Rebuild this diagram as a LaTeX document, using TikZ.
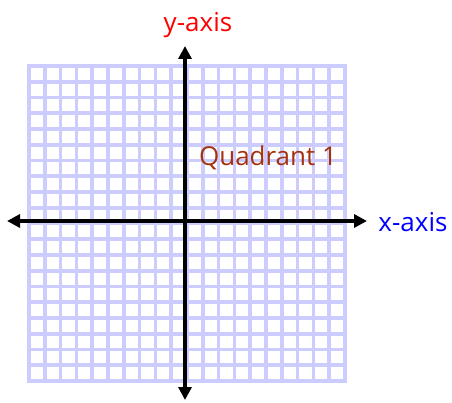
\documentclass[tikz,border=0pt]{standalone}
\usepackage{fontspec}
\setmainfont{Open Sans}
\usepackage{tikz}
\usetikzlibrary{arrows.meta, positioning}
\definecolor{gridblue}{RGB}{204,204,255}
\definecolor{quadbrown}{RGB}{165,50,15}
\tikzset{
  gridline/.style={gridblue, line width=3.6pt},
  axis/.style={black, line width=3.6pt, -{Triangle[length=13pt,width=13pt]}},
  label/.style={font=\fontsize{26}{30}\selectfont, inner sep=0pt}
}
\begin{document}
\begin{tikzpicture}[x=1pt, y=1pt]
  \useasboundingbox (0,0) rectangle (452,402);
  % Grid
  \foreach \i in {0,...,20} {
    \draw[gridline] ({29+15.8*\i},21) -- ({29+15.8*\i},336);
    \draw[gridline] (27,{21+15.75*\i}) -- (347,{21+15.75*\i});
  }
  % Axes
  \coordinate (origin) at (185,181);
  \coordinate (xleft) at (7,181);
  \coordinate (xright) at (367,181);
  \coordinate (ytop) at (185,356);
  \coordinate (ybottom) at (185,2);
  \draw[axis] (origin) -- (xright);
  \draw[axis] (origin) -- (xleft);
  \draw[axis] (origin) -- (ytop);
  \draw[axis] (origin) -- (ybottom);
  % Labels
  \node[label, red] (ylabel) at (198,377) {y-axis};
  \node[label, blue] (xlabel) at (413,180) {x-axis};
  \node[label, quadbrown] (quad) at (268,244) {Quadrant 1};
\end{tikzpicture}
\end{document}
